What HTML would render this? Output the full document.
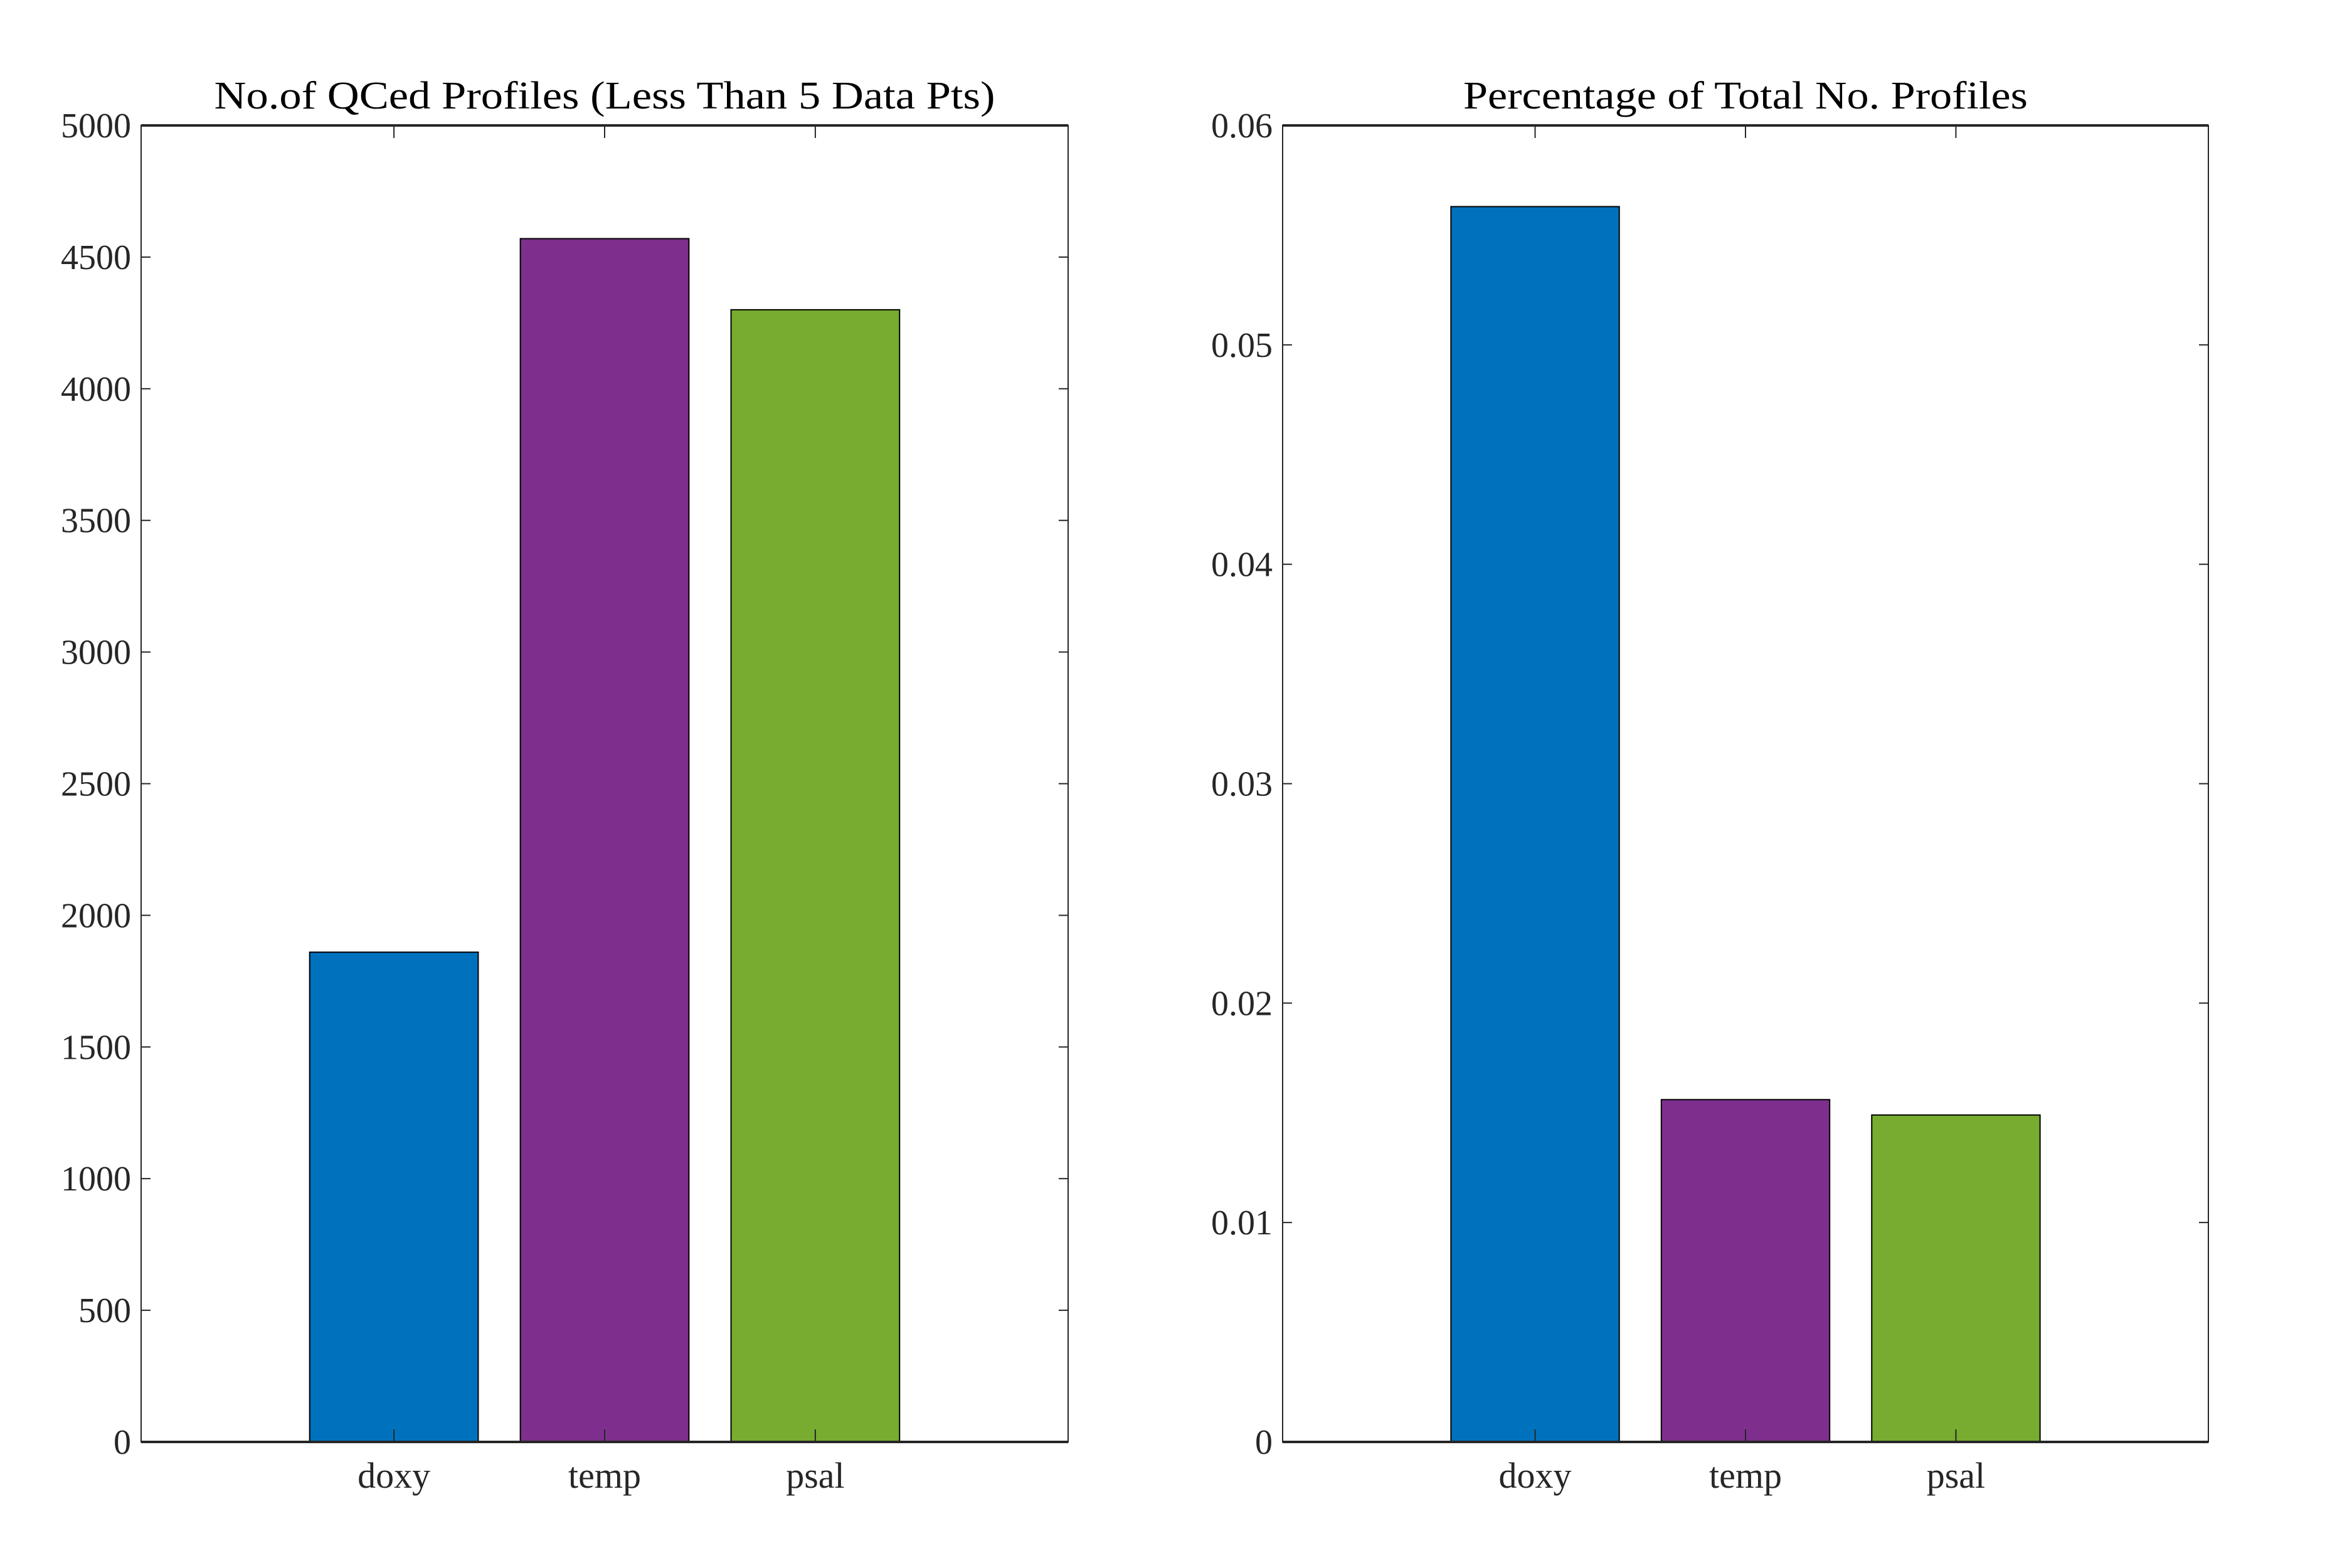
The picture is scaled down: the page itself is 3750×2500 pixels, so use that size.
<!DOCTYPE html>
<html><head><meta charset="utf-8"><style>
html,body{margin:0;padding:0;background:#fff;}
svg{display:block;font-family:"Liberation Serif",serif;}
</style></head><body>
<svg id="chart" width="3750" height="2500" viewBox="0 0 3750 2500" xmlns="http://www.w3.org/2000/svg">
<rect width="3750" height="2500" fill="#fff"/>
</svg>
<script>
const categories = ["doxy", "temp", "psal"];
const countValues = [1860, 4570, 4300];
const percentValues = [0.0563, 0.0156, 0.0149];
const countTicks = [0, 500, 1000, 1500, 2000, 2500, 3000, 3500, 4000, 4500, 5000];
const countTickLabels = ["0","500","1000","1500","2000","2500","3000","3500","4000","4500","5000"];
const percentTicks = [0, 0.01, 0.02, 0.03, 0.04, 0.05, 0.06];
const percentTickLabels = ["0","0.01","0.02","0.03","0.04","0.05","0.06"];
const barColors = ["#0072bd", "#7e2f8e", "#77ac30"];

const NS = "http://www.w3.org/2000/svg";
const svg = document.getElementById("chart");
function mk(tag, attrs, parent) {
  const e = document.createElementNS(NS, tag);
  for (const k in attrs) e.setAttribute(k, attrs[k]);
  (parent || svg).appendChild(e);
  return e;
}
function panel(name, left, right, top, bottom, ymax, values, ticks, tickLabels, title, titleLen) {
  const g = mk("g", {});
  
  
  const xs = v => left + (v + 0.2) / 4.4 * (right - left);
  const ys = v => bottom - v / ymax * (bottom - top);
  const bw = 0.8 / 4.4 * (right - left);
  values.forEach((v, i) => {
    const r = mk("rect", {x: xs(i + 1) - bw / 2, y: ys(v), width: bw, height: bottom - ys(v), fill: barColors[i], stroke: "#000", "stroke-width": 2}, g);
    
    
  });
  const box = mk("rect", {x: left, y: top, width: right - left, height: bottom - top, fill: "none", stroke: "#262626", "stroke-width": 2}, g);
  
  
  mk("line", {x1: left, x2: right, y1: bottom, y2: bottom, stroke: "#262626", "stroke-width": 4}, g);
  mk("line", {x1: left, x2: right, y1: top, y2: top, stroke: "#262626", "stroke-width": 4}, g);
  ticks.forEach((t, i) => {
    const y = ys(t);
    mk("line", {x1: left, x2: left + 15, y1: y, y2: y, stroke: "#262626", "stroke-width": 2}, g);
    mk("line", {x1: right - 15, x2: right, y1: y, y2: y, stroke: "#262626", "stroke-width": 2}, g);
    const tx = mk("text", {x: left - 16, y: y + 19, "text-anchor": "end", "font-size": 56, fill: "#262626"}, g);
    tx.textContent = tickLabels[i];
    
    
  });
  categories.forEach((c, i) => {
    const x = xs(i + 1);
    mk("line", {x1: x, x2: x, y1: bottom, y2: bottom - 20, stroke: "#262626", "stroke-width": 2}, g);
    mk("line", {x1: x, x2: x, y1: top, y2: top + 20, stroke: "#262626", "stroke-width": 2}, g);
    const tx = mk("text", {x: x, y: 2372, "text-anchor": "middle", "font-size": 58, fill: "#262626"}, g);
    tx.textContent = c;
    
    
  });
  const tt = mk("text", {x: (left + right) / 2, y: 173, "text-anchor": "middle", "font-size": 62, fill: "#000", textLength: titleLen, lengthAdjust: "spacingAndGlyphs"}, g);
  tt.textContent = title;
  
  
}
panel("count-panel", 225, 1703, 200, 2299, 5000, countValues, countTicks, countTickLabels, "No.of QCed Profiles (Less Than 5 Data Pts)", 1245);
panel("percentage-panel", 2045, 3521, 200, 2299, 0.06, percentValues, percentTicks, percentTickLabels, "Percentage of Total No. Profiles", 900);
</script>
</body></html>
